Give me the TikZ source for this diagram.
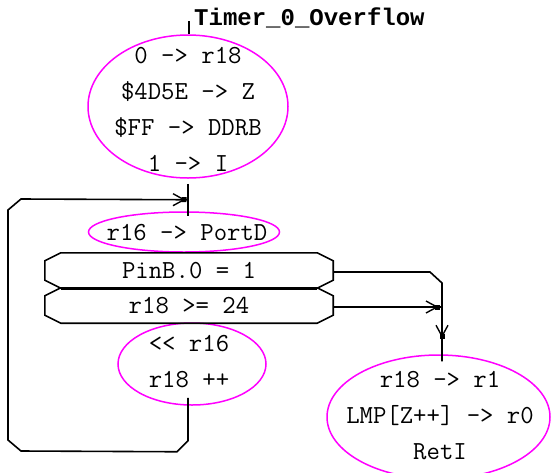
\documentclass[tikz,border=0pt]{standalone}
\usepackage{fontspec}
\newfontfamily\titlefont{Liberation Mono}
\usetikzlibrary{calc,shapes.geometric,decorations.markings}

\definecolor{actline}{RGB}{255,0,255}

% outline of a test box with cut corners
\newcommand\octoframe[1]{%
  \draw[flow] ($(#1.north west)+(16pt,0pt)$) -- ($(#1.north east)+(-16pt,0pt)$)
    -- ($(#1.north east)+(0pt,-8pt)$) -- ($(#1.south east)+(0pt,8pt)$)
    -- ($(#1.south east)+(-16pt,0pt)$) -- ($(#1.south west)+(16pt,0pt)$)
    -- ($(#1.south west)+(0pt,8pt)$) -- ($(#1.north west)+(0pt,-8pt)$) -- cycle;}

\tikzset{
  flow/.style={line width=1.6pt, black},
  actbox/.style={ellipse, draw=actline, line width=1.5pt, inner sep=0pt},
  codetext/.style={inner sep=0pt, align=center, font=\ttfamily\fontsize{26}{36}\selectfont},
  testbox/.style={codetext, rectangle, minimum width=288pt, minimum height=35pt},
  midtip/.style={postaction={decorate, decoration={markings, mark=at position #1 with {
      \draw[line width=1.4pt] (-11pt,-6pt) -- (0pt,0pt) -- (-11pt,6pt);
      \fill[black] (-2.5pt,-2.5pt) rectangle (2.5pt,2.5pt);}}}},
}

\begin{document}
\begin{tikzpicture}[x=1pt,y=-1pt]
\useasboundingbox[fill=white] (0,0) rectangle (551,472);

% entry point label
\node[inner sep=0pt, font=\titlefont\bfseries\fontsize{24}{30}\selectfont, anchor=base west] (title) at (194,25) {Timer\_0\_Overflow};

% action blocks
\node[actbox, minimum width=200pt, minimum height=143pt] (start) at (188,106.5) {};
\node[codetext] (starttext) at (188,109) {0 -> r18\\\$4D5E -> Z\\\$FF -> DDRB\\1 -> I};

\node[actbox, minimum width=191pt, minimum height=40pt] (out) at (184,232) {};
\node[codetext] (outtext) at (187,233) {r16 -> PortD};

\node[actbox, minimum width=148pt, minimum height=82pt] (inc) at (192,364) {};
\node[codetext] (inctext) at (189,362) {<{}< r16\\r18 ++};

\node[actbox, minimum width=223pt, minimum height=124pt] (ret) at (438.5,417) {};
\node[codetext] (rettext) at (440,416) {r18 -> r1\\LMP[Z++] -> r0\\RetI};

% tests
\node[testbox] (pin) at (189,270.5) {PinB.0 = 1};
\node[testbox] (cnt) at (189,305.5) {r18 >= 24};
\octoframe{pin}
\octoframe{cnt}
\draw[line width=2.8pt] ($(pin.south west)+(16pt,0pt)$) -- ($(pin.south east)+(-16pt,0pt)$);

% connectors
\coordinate (entry) at ($(start.north)+(1,-13)$);
\coordinate (merge) at ($(start.south)+(0,21)$);
\coordinate (join) at (442,307);

\draw[flow] (entry) -- ($(start.north)+(1,0)$);
\draw[flow] ($(start.south)+(0,5)$) -- ($(out.north -| merge)+(0,5)$);

\draw[flow, midtip=-4pt] ($(inc.south -| merge)+(0,-8)$) -- ++(0,43) -- ++(-11,11)
  -- (21,451) -- (8,440) -- (8,210) -- (21,199) -- (merge);

\draw[flow, midtip=-25pt] ($(pin.east)+(0,1.5)$) -- (430,272) -- (442,283) -- ($(ret.north)+(3.5,7)$);
\draw[flow, midtip=-5pt] ($(cnt.east)+(0,1.5)$) -- (join);
\end{tikzpicture}
\end{document}
